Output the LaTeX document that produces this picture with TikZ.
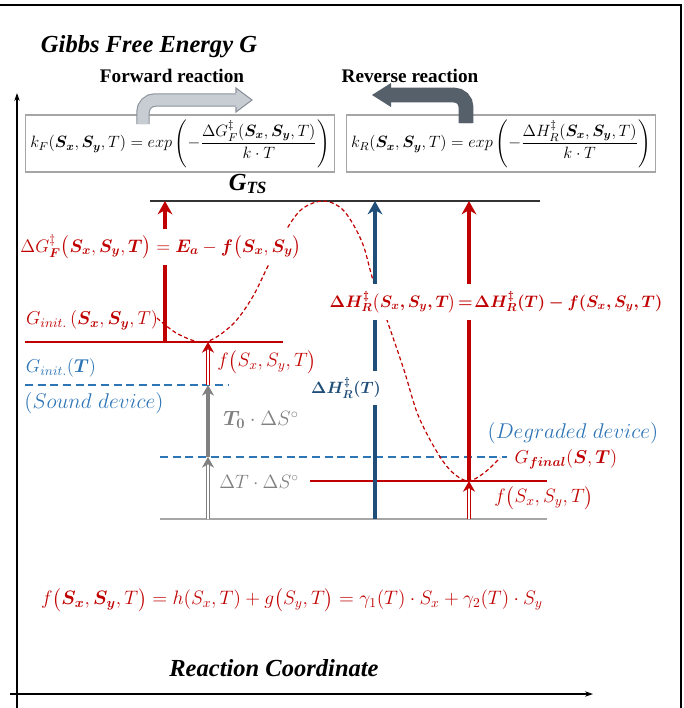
\RequirePackage{fix-cm}
\documentclass[tikz,border=0pt]{standalone}
\usepackage{amsmath}
\usepackage{bm}
\usepackage{xcolor}
\usepackage{fontspec}
\newfontfamily\timesfont{Liberation Serif}
\usetikzlibrary{arrows.meta}

\definecolor{fred}{RGB}{192,0,0}
\definecolor{hblue}{RGB}{31,78,121}
\definecolor{dblue}{RGB}{46,117,182}
\definecolor{lgray}{RGB}{166,166,166}
\definecolor{mgray}{RGB}{128,128,128}
\definecolor{fwdfill}{RGB}{200,205,212}
\definecolor{fwdline}{RGB}{138,145,153}
\definecolor{revfill}{RGB}{86,96,107}

\tikzset{
  lvl/.style={line width=2.2pt},
  dashlvl/.style={dblue, line width=1.5pt, dash pattern=on 6pt off 3.5pt},
  bigarrow/.style={line width=3.5pt, -{Stealth[length=10pt,width=11pt]}},
  dblarrow/.style={double, double distance=1.8pt, line width=0.9pt, -{Stealth[length=8pt,width=9pt]}},
  lbl/.style={inner sep=1pt, font=\fontsize{14}{16}\selectfont},
  cover/.style={fill=white, inner sep=2pt},
  ttl/.style={font=\timesfont\bfseries\fontsize{14.4}{17}\selectfont},
  axlabel/.style={font=\timesfont\bfseries\itshape\fontsize{18.4}{21}\selectfont},
  ratebox/.style={draw=lgray, line width=1pt, minimum height=39.75pt, font=\fontsize{12.3}{14}\selectfont}
}

\begin{document}
\begin{tikzpicture}[x=0.75pt,y=-0.75pt]
    \useasboundingbox (0,0) rectangle (683,708);

    % frame and axes
    \draw[line width=1.8pt] (0,5) -- (681,5) -- (681,708);
    \coordinate (yo) at (17,708);
    \coordinate (yt) at (17,93);
    \coordinate (xo) at (10,694);
    \coordinate (xt) at (593,694);
    \draw[line width=0.8pt, -{Stealth[length=6pt,width=4pt]}] (yo) -- (yt);
    \draw[line width=0.8pt, -{Stealth[length=6pt,width=4pt]}] (xo) -- (xt);
    \node[axlabel] (gaxis) at (149,47) {Gibbs Free Energy G};
    \node[axlabel] (raxis) at (274,668) {Reaction Coordinate};

    % rate constants
    \node[ttl] (fwd) at (172,76) {Forward reaction};
    \node[ttl] (rev) at (410,76) {Reverse reaction};
    \node[ratebox, minimum width=229.5pt] (kF) at (180,143.5)
        {$k_F(\bm{S_x},\bm{S_y},T) = exp\left(-\dfrac{\Delta G_F^{\ddagger}(\bm{S_x},\bm{S_y},T)}{k\cdot T}\right)$};
    \node[ratebox, minimum width=231pt] (kR) at (501,143.5)
        {$k_R(\bm{S_x},\bm{S_y},T) = exp\left(-\dfrac{\Delta H_R^{\ddagger}(\bm{S_x},\bm{S_y},T)}{k\cdot T}\right)$};

    % bent arrows
    \coordinate (fwdS) at (143,124);
    \coordinate (fwdE) at (236,100);
    \draw[draw=fwdline, double=fwdfill, double distance=8.5pt, line width=0.8pt, rounded corners=9pt] (fwdS) |- (fwdE);
    \filldraw[fill=fwdfill, draw=fwdline, line width=0.8pt] (236,93) -- (236,88) -- (252,100) -- (236,112) -- (236,107);
    \coordinate (revS) at (466,123);
    \coordinate (revE) at (390,95);
    \draw[draw=revfill, double=revfill, double distance=9.5pt, line width=0.8pt, rounded corners=9pt] (revS) |- (revE);
    \fill[revfill] (391,83) -- (372,95) -- (391,107) -- cycle;

    % energy levels
    \node[axlabel] (gts) at (248,184) {G\textsubscript{\itshape TS}};
    \draw[line width=1pt, black!80] (150,201) -- (540,201);
    \draw[lvl, fred] (25,342) -- (283,342);
    \draw[lvl, fred] (310,481) -- (547,481);
    \draw[lvl, lgray] (160,519) -- (547,519);
    \draw[dashlvl] (25,385) -- (228,385);
    \draw[dashlvl] (160,457) -- (507,457);

    % reaction path
    \draw[fred, line width=0.9pt, dash pattern=on 3pt off 2pt] plot[smooth, tension=0.55] coordinates {
        (157,318) (178,334) (205,342) (232,325) (252,298) (267,268) (285,232) (302,209)
        (324,201) (344,211) (362,242) (373,280) (388,323) (404,370) (418,415) (437,452)
        (452,472) (468,481) (484,473) (500,458)};

    % arrows
    \coordinate (aF0) at (165,342);
    \coordinate (aF1) at (165,201);
    \coordinate (aH0) at (375,519);
    \coordinate (aH1) at (375,201);
    \coordinate (aR0) at (469,481);
    \coordinate (aR1) at (469,201);
    \coordinate (aR2) at (469,519);
    \coordinate (s0) at (208,519);
    \coordinate (s1) at (208,457);
    \coordinate (s2) at (208,385);
    \coordinate (s3) at (208,342);
    \draw[bigarrow, fred] (aF0) -- (aF1);
    \draw[bigarrow, hblue] (aH0) -- (aH1);
    \draw[bigarrow, fred] (aR0) -- (aR1);
    \draw[dblarrow, fred] (aR2) -- (aR0);
    \draw[dblarrow, mgray] (s0) -- (s1);
    \draw[line width=3pt, mgray, -{Stealth[length=8pt,width=9pt]}] (s1) -- (s2);
    \draw[dblarrow, fred] (s2) -- (s3);

    % labels
    \node[lbl, cover, text=fred, font=\fontsize{13.6}{16}\selectfont, inner xsep=0.5pt, inner ysep=4pt] (dG) at (161,247)
        {$\Delta G^{\ddagger}_{\bm{F}}\bigl(\bm{S_x},\bm{S_y},\bm{T}\bigr) = \bm{E_a} - \bm{f}\bigl(\bm{S_x},\bm{S_y}\bigr)$};
    \node[lbl, cover, text=fred, font=\fontsize{12.5}{15}\selectfont, inner ysep=5pt] (dH) at (496,302)
        {$\bm{\Delta H^{\ddagger}_R\bigl(S_x,S_y,T\bigr)\!=\!\Delta H^{\ddagger}_R(T) - f(S_x,S_y,T)}$};
    \node[lbl, cover, text=hblue, font=\fontsize{12.3}{15}\selectfont, inner ysep=5pt] (dHT) at (346,388) {$\bm{\Delta H^{\ddagger}_R(T)}$};
    \node[lbl, text=fred] (gi) at (92,320) {$G_{init.}\,(\bm{S_x},\bm{S_y},T)$};
    \node[lbl, text=dblue] (git) at (61,368) {$G_{init.}(\bm{T})$};
    \node[lbl, text=dblue, font=\fontsize{16}{18}\selectfont] (sound) at (94,403) {$(Sound\ device)$};
    \node[lbl, text=fred, font=\fontsize{14.5}{16}\selectfont] (fL) at (267,362) {$f\bigl(S_x,S_y,T\bigr)$};
    \node[lbl, text=mgray, font=\fontsize{15.5}{17}\selectfont] (t0) at (261,420) {$\bm{T_0}\cdot\Delta S^{\circ}$};
    \node[lbl, text=mgray, font=\fontsize{14.5}{17}\selectfont] (dT) at (259,482) {$\Delta T\cdot\Delta S^{\circ}$};
    \node[lbl, text=dblue, font=\fontsize{16}{18}\selectfont] (degr) at (573,433) {$(Degraded\ device)$};
    \node[lbl, text=fred] (gf) at (566,459) {$G_{\bm{final}}(\bm{S},\bm{T})$};
    \node[lbl, text=fred, font=\fontsize{14.5}{16}\selectfont] (fR) at (544,498) {$f\bigl(S_x,S_y,T\bigr)$};
    \node[lbl, text=fred, font=\fontsize{14.6}{16}\selectfont] (fdef) at (292,600)
        {$f\bigl(\bm{S_x},\bm{S_y},T\bigr) = h(S_x,T) + g\bigl(S_y,T\bigr) = \gamma_1(T)\cdot S_x + \gamma_2(T)\cdot S_y$};
\end{tikzpicture}
\end{document}
